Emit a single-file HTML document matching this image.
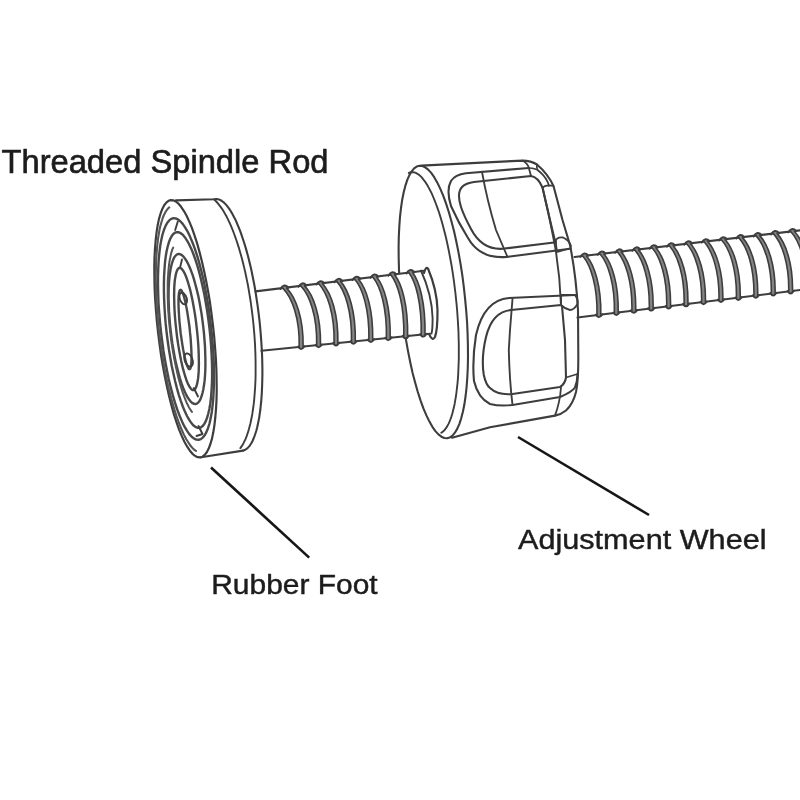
<!DOCTYPE html>
<html><head><meta charset="utf-8"><title>Spindle rod diagram</title>
<style>
html,body{margin:0;padding:0;background:#fff;}
body{width:800px;height:800px;overflow:hidden;font-family:"Liberation Sans",sans-serif;}
svg{display:block;}
text{font-family:"Liberation Sans",sans-serif;fill:#1c1c1c;stroke:#1c1c1c;stroke-width:0.45px;stroke-linejoin:round;}
.art path{stroke-linecap:round;stroke-linejoin:round;}
</style></head><body>
<svg width="800" height="800" viewBox="0 0 800 800">
<defs>
<filter id="soft" x="-2%" y="-2%" width="104%" height="104%"><feGaussianBlur stdDeviation="0.65"/></filter>
<filter id="softt" x="-2%" y="-10%" width="104%" height="120%"><feGaussianBlur stdDeviation="0.45"/></filter>
</defs>
<rect width="800" height="800" fill="#fff"/>
<g class="art" filter="url(#soft)">
<path d="M176,200.4 L214,199.2 L216.5,199.0 L217.8,199.2 L219.2,199.6 L220.6,200.2 L221.9,201.0 L223.4,202.1 L224.8,203.4 L226.2,204.9 L227.6,206.6 L229.1,208.6 L230.5,210.8 L231.9,213.1 L233.3,215.7 L234.8,218.5 L236.2,221.4 L237.5,224.6 L238.9,227.9 L240.3,231.4 L241.6,235.1 L242.9,239.0 L244.2,243.0 L245.5,247.1 L246.7,251.4 L247.9,255.8 L249.1,260.4 L250.2,265.1 L251.3,269.8 L252.3,274.7 L253.3,279.7 L254.3,284.7 L255.2,289.9 L256.0,295.0 L256.8,300.3 L257.6,305.6 L258.3,310.9 L259.0,316.3 L259.6,321.6 L260.1,327.0 L260.6,332.4 L261.0,337.7 L261.4,343.0 L261.7,348.3 L262.0,353.6 L262.2,358.8 L262.3,363.9 L262.4,369.0 L262.4,374.0 L262.3,378.9 L262.2,383.7 L262.0,388.4 L261.8,393.0 L261.5,397.4 L261.2,401.7 L260.7,405.9 L260.3,410.0 L259.7,413.8 L259.2,417.6 L258.5,421.1 L257.8,424.5 L257.1,427.7 L256.3,430.7 L255.4,433.5 L254.5,436.1 L253.6,438.5 L252.6,440.7 L251.6,442.7 L250.5,444.5 L249.4,446.1 L248.2,447.4 L247.0,448.5 L245.8,449.4 L244.6,450.1 L243.3,450.6" fill="none" stroke="#3e3e3e" stroke-width="2.10" />
<path d="M213.9,199.4 L215.3,200.6 L216.7,202.0 L218.1,203.6 L219.4,205.3 L220.8,207.1 L222.2,209.1 L223.6,211.3 L224.9,213.6 L226.3,216.0 L227.6,218.6 L228.9,221.3 L230.2,224.2 L231.5,227.2 L232.8,230.3 L234.0,233.5 L235.2,236.9 L236.4,240.3 L237.6,243.9 L238.8,247.6 L239.9,251.4 L241.0,255.2 L242.1,259.2 L243.1,263.2 L244.1,267.4 L245.1,271.5 L246.0,275.8 L246.9,280.1 L247.8,284.5 L248.6,289.0 L249.3,293.4 L250.1,298.0 L250.8,302.5 L251.4,307.1 L252.0,311.7 L252.6,316.4 L253.1,321.0 L253.6,325.6 L254.0,330.3 L254.4,334.9 L254.7,339.5 L255.0,344.1 L255.2,348.7 L255.4,353.3 L255.5,357.8 L255.6,362.2 L255.6,366.7 L255.6,371.0 L255.6,375.3 L255.5,379.6 L255.3,383.7 L255.1,387.8 L254.8,391.9 L254.5,395.8 L254.2,399.6 L253.8,403.4 L253.3,407.0 L252.8,410.5 L252.3,414.0 L251.7,417.3 L251.0,420.5 L250.4,423.5 L249.6,426.5 L248.9,429.3 L248.1,431.9 L247.2,434.5 L246.4,436.9 L245.5,439.1 L244.5,441.2 L243.5,443.2 L242.5,445.0 L241.4,446.6 L240.4,448.1" fill="none" stroke="#3e3e3e" stroke-width="1.90" />
<path d="M201,457.3 L243,450.6" fill="none" stroke="#3e3e3e" stroke-width="2.10" />
<path d="M213.0,325.6 L214.2,336.8 L215.1,348.0 L215.9,359.0 L216.4,369.8 L216.6,380.3 L216.7,390.4 L216.5,400.0 L216.0,409.1 L215.3,417.5 L214.4,425.3 L213.3,432.3 L212.0,438.6 L210.4,444.0 L208.7,448.6 L206.8,452.2 L204.7,454.9 L202.5,456.7 L200.2,457.4 L197.7,457.2 L195.2,456.0 L192.5,453.8 L189.9,450.7 L187.2,446.7 L184.4,441.7 L181.7,435.9 L179.0,429.3 L176.4,421.9 L173.8,413.9 L171.4,405.1 L169.0,395.8 L166.8,386.0 L164.7,375.7 L162.7,365.1 L160.9,354.2 L159.4,343.1 L158.0,331.9 L156.8,320.7 L155.9,309.5 L155.1,298.5 L154.6,287.7 L154.4,277.2 L154.3,267.1 L154.5,257.5 L155.0,248.4 L155.7,240.0 L156.6,232.2 L157.7,225.2 L159.0,218.9 L160.6,213.5 L162.3,208.9 L164.2,205.3 L166.3,202.6 L168.5,200.8 L170.8,200.1 L173.3,200.3 L175.8,201.5 L178.5,203.7 L181.1,206.8 L183.8,210.8 L186.6,215.8 L189.3,221.6 L192.0,228.2 L194.6,235.6 L197.2,243.6 L199.6,252.4 L202.0,261.7 L204.2,271.5 L206.3,281.8 L208.3,292.4 L210.1,303.3 L211.6,314.4 L213.0,325.6Z" fill="#fff" stroke="#3e3e3e" stroke-width="2.20" />
<path d="M211.0,326.1 L212.0,335.8 L212.8,345.4 L213.5,354.9 L213.8,364.2 L214.0,373.2 L214.0,381.9 L213.7,390.2 L213.3,398.0 L212.6,405.3 L211.8,412.0 L210.7,418.1 L209.5,423.5 L208.0,428.2 L206.4,432.1 L204.7,435.3 L202.8,437.6 L200.8,439.1 L198.6,439.8 L196.4,439.6 L194.1,438.6 L191.7,436.7 L189.3,434.1 L186.9,430.6 L184.4,426.4 L182.0,421.4 L179.6,415.7 L177.2,409.4 L174.9,402.4 L172.7,394.9 L170.6,386.9 L168.6,378.4 L166.8,369.6 L165.1,360.4 L163.5,351.0 L162.2,341.5 L161.0,331.9 L160.0,322.2 L159.2,312.6 L158.5,303.1 L158.2,293.8 L158.0,284.8 L158.0,276.1 L158.3,267.8 L158.7,260.0 L159.4,252.7 L160.2,246.0 L161.3,239.9 L162.5,234.5 L164.0,229.8 L165.6,225.9 L167.3,222.7 L169.2,220.4 L171.2,218.9 L173.4,218.2 L175.6,218.4 L177.9,219.4 L180.3,221.3 L182.7,223.9 L185.1,227.4 L187.6,231.6 L190.0,236.6 L192.4,242.3 L194.8,248.6 L197.1,255.6 L199.3,263.1 L201.4,271.1 L203.4,279.6 L205.2,288.4 L206.9,297.6 L208.5,307.0 L209.8,316.5 L211.0,326.1Z" fill="none" stroke="#4a4a4a" stroke-width="2.40" />
<path d="M209.4,327.6 L210.3,336.1 L211.0,344.6 L211.5,353.0 L211.9,361.2 L212.1,369.2 L212.1,376.8 L211.9,384.1 L211.5,391.0 L211.0,397.5 L210.3,403.4 L209.4,408.8 L208.3,413.5 L207.1,417.7 L205.8,421.1 L204.3,423.9 L202.7,426.0 L201.0,427.3 L199.2,427.9 L197.2,427.7 L195.3,426.8 L193.2,425.2 L191.2,422.8 L189.1,419.7 L187.0,416.0 L184.9,411.6 L182.8,406.5 L180.8,400.9 L178.8,394.8 L176.9,388.1 L175.1,381.0 L173.4,373.6 L171.7,365.8 L170.3,357.7 L168.9,349.4 L167.7,341.0 L166.6,332.4 L165.7,323.9 L165.0,315.4 L164.5,307.0 L164.1,298.8 L163.9,290.8 L163.9,283.2 L164.1,275.9 L164.5,269.0 L165.0,262.5 L165.7,256.6 L166.6,251.2 L167.7,246.5 L168.9,242.3 L170.2,238.9 L171.7,236.1 L173.3,234.0 L175.0,232.7 L176.8,232.1 L178.8,232.3 L180.7,233.2 L182.8,234.8 L184.8,237.2 L186.9,240.3 L189.0,244.0 L191.1,248.4 L193.2,253.5 L195.2,259.1 L197.2,265.2 L199.1,271.9 L200.9,279.0 L202.6,286.4 L204.3,294.2 L205.7,302.3 L207.1,310.6 L208.3,319.0 L209.4,327.6Z" fill="none" stroke="#4a4a4a" stroke-width="2.40" />
<path d="M203.3,327.1 L204.0,333.7 L204.5,340.2 L205.0,346.6 L205.2,352.9 L205.4,359.0 L205.4,364.9 L205.3,370.5 L205.0,375.8 L204.6,380.7 L204.0,385.3 L203.3,389.4 L202.5,393.0 L201.6,396.2 L200.6,398.9 L199.5,401.0 L198.2,402.6 L196.9,403.6 L195.5,404.0 L194.1,403.9 L192.6,403.2 L191.0,401.9 L189.5,400.1 L187.9,397.8 L186.3,394.9 L184.7,391.5 L183.1,387.7 L181.5,383.4 L180.0,378.6 L178.6,373.5 L177.2,368.1 L175.8,362.4 L174.6,356.4 L173.5,350.2 L172.4,343.9 L171.5,337.4 L170.7,330.9 L170.0,324.3 L169.5,317.8 L169.0,311.4 L168.8,305.1 L168.6,299.0 L168.6,293.1 L168.7,287.5 L169.0,282.2 L169.4,277.3 L170.0,272.7 L170.7,268.6 L171.5,265.0 L172.4,261.8 L173.4,259.1 L174.5,257.0 L175.8,255.4 L177.1,254.4 L178.5,254.0 L179.9,254.1 L181.4,254.8 L183.0,256.1 L184.5,257.9 L186.1,260.2 L187.7,263.1 L189.3,266.5 L190.9,270.3 L192.5,274.6 L194.0,279.4 L195.4,284.5 L196.8,289.9 L198.2,295.6 L199.4,301.6 L200.5,307.8 L201.6,314.1 L202.5,320.6 L203.3,327.1Z" fill="none" stroke="#4a4a4a" stroke-width="2.40" />
<path d="M196.7,327.8 L197.3,333.2 L197.8,338.5 L198.2,343.7 L198.5,348.8 L198.7,353.8 L198.8,358.5 L198.9,363.1 L198.8,367.4 L198.7,371.4 L198.4,375.1 L198.1,378.4 L197.6,381.3 L197.1,383.9 L196.5,386.0 L195.9,387.7 L195.1,389.0 L194.3,389.8 L193.5,390.1 L192.5,390.0 L191.6,389.4 L190.6,388.3 L189.5,386.8 L188.5,384.9 L187.4,382.5 L186.3,379.7 L185.3,376.6 L184.2,373.0 L183.1,369.2 L182.1,365.0 L181.1,360.6 L180.2,355.9 L179.3,351.0 L178.4,345.9 L177.6,340.8 L176.9,335.5 L176.3,330.2 L175.7,324.8 L175.2,319.5 L174.8,314.3 L174.5,309.2 L174.3,304.2 L174.2,299.5 L174.1,294.9 L174.2,290.6 L174.3,286.6 L174.6,282.9 L174.9,279.6 L175.4,276.7 L175.9,274.1 L176.5,272.0 L177.1,270.3 L177.9,269.0 L178.7,268.2 L179.5,267.9 L180.5,268.0 L181.4,268.6 L182.4,269.7 L183.5,271.2 L184.5,273.1 L185.6,275.5 L186.7,278.3 L187.7,281.4 L188.8,285.0 L189.9,288.8 L190.9,293.0 L191.9,297.4 L192.8,302.1 L193.7,307.0 L194.6,312.1 L195.4,317.2 L196.1,322.5 L196.7,327.8Z" fill="none" stroke="#4a4a4a" stroke-width="2.40" />
<path d="M189.7,329.0 L190.0,332.4 L190.4,335.9 L190.7,339.3 L190.9,342.6 L191.1,345.8 L191.3,348.9 L191.4,351.9 L191.5,354.6 L191.5,357.2 L191.5,359.6 L191.4,361.8 L191.3,363.7 L191.1,365.3 L190.9,366.7 L190.6,367.8 L190.3,368.5 L189.9,369.0 L189.5,369.2 L189.1,369.1 L188.6,368.7 L188.2,368.0 L187.7,367.0 L187.1,365.7 L186.6,364.2 L186.0,362.4 L185.5,360.3 L184.9,358.0 L184.3,355.5 L183.8,352.7 L183.2,349.8 L182.7,346.8 L182.2,343.6 L181.7,340.3 L181.2,336.9 L180.7,333.5 L180.3,330.0 L180.0,326.6 L179.6,323.1 L179.3,319.7 L179.1,316.4 L178.9,313.2 L178.7,310.1 L178.6,307.1 L178.5,304.4 L178.5,301.8 L178.5,299.4 L178.6,297.2 L178.7,295.3 L178.9,293.7 L179.1,292.3 L179.4,291.2 L179.7,290.5 L180.1,290.0 L180.5,289.8 L180.9,289.9 L181.4,290.3 L181.8,291.0 L182.3,292.0 L182.9,293.3 L183.4,294.8 L184.0,296.6 L184.5,298.7 L185.1,301.0 L185.7,303.5 L186.2,306.3 L186.8,309.2 L187.3,312.2 L187.8,315.4 L188.3,318.7 L188.8,322.1 L189.3,325.5 L189.7,329.0Z" fill="none" stroke="#4a4a4a" stroke-width="2.40" />
<path d="M186.4,297.3 L186.6,297.8 L186.7,298.3 L186.8,298.8 L186.9,299.3 L187.0,299.8 L187.0,300.3 L187.0,300.8 L187.0,301.2 L186.9,301.7 L186.8,302.1 L186.7,302.5 L186.6,302.8 L186.4,303.1 L186.2,303.4 L186.0,303.6 L185.8,303.9 L185.5,304.0 L185.3,304.1 L185.0,304.2 L184.7,304.3 L184.4,304.2 L184.0,304.2 L183.7,304.1 L183.4,304.0 L183.0,303.8 L182.7,303.6 L182.4,303.3 L182.1,303.0 L181.8,302.7 L181.5,302.3 L181.2,301.9 L180.9,301.5 L180.6,301.1 L180.4,300.6 L180.2,300.1 L180.0,299.7 L179.8,299.2 L179.7,298.7 L179.6,298.2 L179.5,297.7 L179.4,297.2 L179.4,296.7 L179.4,296.2 L179.4,295.8 L179.5,295.3 L179.6,294.9 L179.7,294.5 L179.8,294.2 L180.0,293.9 L180.2,293.6 L180.4,293.4 L180.6,293.1 L180.9,293.0 L181.1,292.9 L181.4,292.8 L181.7,292.7 L182.0,292.8 L182.4,292.8 L182.7,292.9 L183.0,293.0 L183.4,293.2 L183.7,293.4 L184.0,293.7 L184.3,294.0 L184.6,294.3 L184.9,294.7 L185.2,295.1 L185.5,295.5 L185.8,295.9 L186.0,296.4 L186.2,296.9 L186.4,297.3Z" fill="none" stroke="#3e3e3e" stroke-width="1.90" />
<path d="M192.2,358.7 L192.4,359.3 L192.5,359.8 L192.7,360.4 L192.8,361.0 L192.8,361.5 L192.9,362.1 L192.9,362.6 L192.8,363.1 L192.8,363.6 L192.7,364.1 L192.6,364.5 L192.4,364.9 L192.2,365.2 L192.0,365.6 L191.8,365.8 L191.5,366.1 L191.2,366.3 L190.9,366.4 L190.6,366.5 L190.3,366.5 L189.9,366.5 L189.6,366.4 L189.2,366.3 L188.8,366.2 L188.5,366.0 L188.1,365.7 L187.7,365.4 L187.4,365.1 L187.0,364.7 L186.7,364.3 L186.3,363.9 L186.0,363.4 L185.8,362.9 L185.5,362.4 L185.2,361.9 L185.0,361.3 L184.8,360.7 L184.7,360.2 L184.5,359.6 L184.4,359.0 L184.4,358.5 L184.3,357.9 L184.3,357.4 L184.4,356.9 L184.4,356.4 L184.5,355.9 L184.6,355.5 L184.8,355.1 L185.0,354.8 L185.2,354.4 L185.4,354.2 L185.7,353.9 L186.0,353.7 L186.3,353.6 L186.6,353.5 L186.9,353.5 L187.3,353.5 L187.6,353.6 L188.0,353.7 L188.4,353.8 L188.7,354.0 L189.1,354.3 L189.5,354.6 L189.8,354.9 L190.2,355.3 L190.5,355.7 L190.9,356.1 L191.2,356.6 L191.4,357.1 L191.7,357.6 L192.0,358.1 L192.2,358.7Z" fill="none" stroke="#3e3e3e" stroke-width="1.90" />
<path d="M177.8,221.5 L175.2,230" fill="none" stroke="#3e3e3e" stroke-width="1.90" />
<path d="M182,259.5 L180.2,267" fill="none" stroke="#3e3e3e" stroke-width="1.90" />
<path d="M198.5,426 L202.5,434 L196.5,436" fill="none" stroke="#3e3e3e" stroke-width="1.90" />
<path d="M193.8,388 L198,396.5" fill="none" stroke="#3e3e3e" stroke-width="1.90" />
<path d="M196.0,450.9 L194.8,450.1 L193.6,449.1 L192.4,447.9 L191.2,446.5 L190.0,445.0 L188.8,443.2 L187.6,441.3 L186.3,439.3 L185.1,437.0 L183.9,434.6 L182.7,432.0 L181.5,429.3 L180.3,426.4 L179.1,423.4 L177.9,420.2 L176.7,416.9 L175.6,413.4 L174.5,409.8 L173.4,406.1 L172.3,402.3 L171.2,398.3 L170.2,394.3 L169.1,390.1 L168.1,385.9 L167.2,381.5 L166.3,377.1 L165.4,372.6 L164.5,368.1 L163.7,363.4 L162.9,358.8 L162.1,354.0 L161.4,349.3 L160.7,344.5 L160.1,339.7 L159.5,334.9 L158.9,330.0 L158.4,325.2 L158.0,320.3 L157.5,315.5 L157.2,310.7 L156.8,306.0 L156.6,301.2 L156.3,296.5 L156.1,291.9 L156.0,287.3 L155.9,282.8 L155.8,278.3 L155.8,274.0 L155.9,269.7 L156.0,265.5 L156.1,261.4 L156.3,257.4 L156.6,253.5 L156.9,249.7 L157.2,246.1 L157.6,242.6 L158.0,239.2 L158.5,235.9 L159.0,232.8 L159.5,229.9 L160.1,227.1 L160.8,224.5 L161.5,222.0 L162.2,219.7 L162.9,217.5 L163.7,215.5 L164.6,213.7 L165.4,212.1 L166.3,210.7 L167.3,209.4 L168.2,208.3 L169.2,207.4" fill="none" stroke="#555" stroke-width="2.10" />
<path d="M191.9,411.9 L191.2,410.9 L190.5,409.8 L189.7,408.6 L189.0,407.4 L188.3,406.0 L187.6,404.5 L186.8,403.0 L186.1,401.4 L185.4,399.7 L184.7,397.9 L184.0,396.0 L183.3,394.1 L182.6,392.1 L181.9,390.0 L181.2,387.8 L180.6,385.6 L179.9,383.3 L179.3,380.9 L178.6,378.5 L178.0,376.0 L177.4,373.5 L176.8,370.9 L176.2,368.3 L175.6,365.6 L175.1,362.9 L174.5,360.1 L174.0,357.3 L173.5,354.5 L173.0,351.7 L172.5,348.8 L172.1,345.9 L171.6,343.0 L171.2,340.0 L170.8,337.1 L170.5,334.1 L170.1,331.2 L169.8,328.2 L169.5,325.2 L169.2,322.3 L168.9,319.3 L168.7,316.4 L168.5,313.4 L168.3,310.5 L168.1,307.6 L168.0,304.8 L167.9,301.9 L167.8,299.1 L167.7,296.3 L167.7,293.6 L167.7,290.9 L167.7,288.3 L167.7,285.7 L167.7,283.1 L167.8,280.6 L167.9,278.2 L168.1,275.8 L168.2,273.5 L168.4,271.2 L168.6,269.0 L168.8,266.9 L169.0,264.8 L169.3,262.8 L169.6,260.9 L169.9,259.1 L170.3,257.4 L170.6,255.7 L171.0,254.1 L171.4,252.6 L171.8,251.2 L172.2,249.9 L172.7,248.7 L173.2,247.6" fill="none" stroke="#555" stroke-width="2.00" />
<path d="M421.3,165.6 L522.5,160.6 Q531,160.8 537,164.5 Q548,174 553.5,186 L562.5,220 L570,245 Q576,275 578,310 L578.3,355 Q578.5,380 576,392 Q573,404 566,410.5 Q561,414.5 555,415.6 L490,427.3 L452,437.8 L430,420 L400,300 L405,200 Z" fill="#fff" stroke="#3e3e3e" stroke-width="0.00" />
<path d="M421.3,165.6 L522.5,160.6 Q531,160.8 537,164.5 Q548,174 553.5,186 L562.5,220 L570,245 Q576,275 578,310 L578.3,355 Q578.5,380 576,392 Q573,404 566,410.5 Q561,414.5 555,415.6 L490,427.3 L452,437.8" fill="none" stroke="#3e3e3e" stroke-width="2.10" />
<path d="M465.1,298.8 L466.2,310.6 L467.1,322.5 L467.6,334.1 L467.9,345.5 L468.0,356.6 L467.8,367.3 L467.3,377.5 L466.6,387.1 L465.6,396.0 L464.4,404.3 L462.9,411.7 L461.2,418.3 L459.3,424.1 L457.2,428.9 L454.9,432.7 L452.5,435.6 L449.9,437.4 L447.1,438.2 L444.3,438.0 L441.4,436.7 L438.4,434.4 L435.4,431.1 L432.4,426.8 L429.4,421.6 L426.4,415.4 L423.4,408.4 L420.6,400.6 L417.8,392.0 L415.2,382.8 L412.6,372.9 L410.3,362.5 L408.1,351.6 L406.1,340.4 L404.3,328.8 L402.8,317.1 L401.5,305.2 L400.4,293.4 L399.5,281.5 L399.0,269.9 L398.7,258.5 L398.6,247.4 L398.8,236.7 L399.3,226.5 L400.0,216.9 L401.0,208.0 L402.2,199.7 L403.7,192.3 L405.4,185.7 L407.3,179.9 L409.4,175.1 L411.7,171.3 L414.1,168.4 L416.7,166.6 L419.5,165.8 L422.3,166.0 L425.2,167.3 L428.2,169.6 L431.2,172.9 L434.2,177.2 L437.2,182.4 L440.2,188.6 L443.2,195.6 L446.0,203.4 L448.8,212.0 L451.4,221.2 L454.0,231.1 L456.3,241.5 L458.5,252.4 L460.5,263.6 L462.3,275.2 L463.8,286.9 L465.1,298.8Z" fill="#fff" stroke="#3e3e3e" stroke-width="2.10" />
<path d="M408.8,172.9 L410.1,172.4 L411.5,172.2 L412.9,172.2 L414.3,172.4 L415.7,172.9 L417.1,173.6 L418.6,174.5 L420.0,175.7 L421.5,177.2 L422.9,178.9 L424.4,180.8 L425.9,182.9 L427.4,185.3 L428.8,187.9 L430.3,190.7 L431.8,193.7 L433.2,197.0 L434.6,200.4 L436.0,204.0 L437.4,207.8 L438.8,211.8 L440.1,215.9 L441.4,220.3 L442.7,224.7 L443.9,229.4 L445.1,234.1 L446.3,239.0 L447.4,244.0 L448.5,249.2 L449.5,254.4 L450.5,259.7 L451.5,265.1 L452.4,270.6 L453.2,276.1 L454.0,281.7 L454.7,287.3 L455.4,292.9 L456.0,298.6 L456.6,304.3 L457.1,310.0 L457.5,315.6 L457.9,321.3 L458.2,326.9 L458.5,332.4 L458.6,337.9 L458.8,343.4 L458.8,348.7 L458.8,354.0 L458.8,359.2 L458.6,364.3 L458.4,369.2 L458.2,374.1 L457.9,378.8 L457.5,383.3 L457.0,387.7 L456.5,392.0 L456.0,396.0 L455.3,399.9 L454.7,403.7 L453.9,407.2 L453.1,410.5 L452.3,413.7 L451.4,416.6 L450.4,419.3 L449.4,421.8 L448.4,424.1 L447.3,426.1 L446.2,427.9 L445.0,429.5 L443.8,430.8 L442.6,431.9 L441.3,432.8" fill="none" stroke="#3e3e3e" stroke-width="1.90" />
<path d="M570,248.8 L506,257 Q480,259 468,238 Q458,222 451,206 Q446,190 451,181 Q455,174.5 466,173.2 L528.8,168" fill="none" stroke="#3e3e3e" stroke-width="2.10" />
<path d="M554,242.5 L502.5,248.8 Q482,250 471,229 Q464,216 461,207 Q456.5,193 462,187 Q466,183 474,182 L531,176 Q538,177 542.5,187.5 L548.8,215 L555.5,243" fill="none" stroke="#3e3e3e" stroke-width="2.10" />
<path d="M482,171.8 Q487,200 496,230 L507.5,257" fill="none" stroke="#3e3e3e" stroke-width="1.90" />
<path d="M542.5,187.5 L548.8,215 L555,246 Q560,275 561,305" fill="none" stroke="#3e3e3e" stroke-width="1.90" />
<path d="M522.5,160.6 Q528,164 528.8,168 Q530,172 531,176" fill="none" stroke="#3e3e3e" stroke-width="1.80" />
<path d="M528.8,168 Q536,168 540,172" fill="none" stroke="#3e3e3e" stroke-width="1.70" />
<path d="M542.5,187.5 Q547,184 553.5,186" fill="none" stroke="#3e3e3e" stroke-width="1.70" />
<path d="M537,164.5 Q536,170 540,172 Q547,178 549,186" fill="none" stroke="#3e3e3e" stroke-width="1.70" />
<path d="M553.8,242.5 Q557,236.5 563,237.5 Q569,240 571,246" fill="none" stroke="#3e3e3e" stroke-width="1.80" />
<path d="M556,240 Q556,248 557.5,252 L571,248" fill="none" stroke="#3e3e3e" stroke-width="1.70" />
<path d="M561,295 L575,295 Q578.5,300 577.5,304 Q574,310 570,310 Q565,309 561,305 Z" fill="none" stroke="#3e3e3e" stroke-width="1.90" />
<path d="M575,295 L509,298 Q484,300 476,335 Q472,360 474,381 Q478,398 490,404 Q500,406.5 512.5,405 L560,397 Q572,392 575,387.5 Q577.5,381 577.5,374" fill="none" stroke="#3e3e3e" stroke-width="2.10" />
<path d="M561,305 L511,310 Q492,312 486,337 Q481,358 483.8,375 Q486,385 490,388 Q498,395.5 512.5,394 L560,387 Q565,384 566,377.5 L565,340 L562,306" fill="none" stroke="#3e3e3e" stroke-width="2.10" />
<path d="M512.5,299 L510,330 L508.8,350 Q509.5,380 512.5,405" fill="none" stroke="#3e3e3e" stroke-width="1.90" />
<path d="M566,377.5 L577.5,374" fill="none" stroke="#3e3e3e" stroke-width="1.70" />
<path d="M561,387.5 Q560,402 555,415.6" fill="none" stroke="#3e3e3e" stroke-width="1.80" />
<path d="M385,275.5 L426,270.5 L431,333.6 L385,338.3Z" fill="#fff" stroke="#3e3e3e" stroke-width="0.00" />
<path d="M255.5,291.4 L424,270.7" fill="none" stroke="#3e3e3e" stroke-width="2.10" />
<path d="M261.5,350.8 L430,333.7" fill="none" stroke="#3e3e3e" stroke-width="2.10" />
<path d="M284.6,288.1 C293.7,297.1 301.8,318.1 301.1,347.0" fill="none" stroke="#858585" stroke-width="3.80" />
<path d="M282.8,288.1 C291.8,297.1 299.9,318.1 299.2,347.0" fill="none" stroke="#3e3e3e" stroke-width="1.60" />
<path d="M286.6,288.1 C295.6,297.1 303.7,318.1 303.1,347.0" fill="none" stroke="#3e3e3e" stroke-width="1.60" />
<path d="M280.4,288.9 q3.6,-6 8,-1.2" fill="none" stroke="#3e3e3e" stroke-width="2.00" />
<path d="M298.2,346.6 q2.8,5 6.2,-0.3" fill="none" stroke="#3e3e3e" stroke-width="2.00" />
<path d="M302.6,285.9 C311.4,294.9 319.2,315.9 318.6,345.2" fill="none" stroke="#858585" stroke-width="3.80" />
<path d="M300.8,285.9 C309.5,294.9 317.3,315.9 316.7,345.2" fill="none" stroke="#3e3e3e" stroke-width="1.60" />
<path d="M304.6,285.9 C313.3,294.9 321.1,315.9 320.5,345.2" fill="none" stroke="#3e3e3e" stroke-width="1.60" />
<path d="M298.4,286.7 q3.6,-6 8,-1.2" fill="none" stroke="#3e3e3e" stroke-width="2.00" />
<path d="M315.7,344.8 q2.8,5 6.2,-0.3" fill="none" stroke="#3e3e3e" stroke-width="2.00" />
<path d="M320.6,283.7 C329.1,292.7 336.6,313.7 336.0,343.4" fill="none" stroke="#858585" stroke-width="3.80" />
<path d="M318.8,283.7 C327.2,292.7 334.7,313.7 334.1,343.4" fill="none" stroke="#3e3e3e" stroke-width="1.60" />
<path d="M322.6,283.7 C331.0,292.7 338.5,313.7 337.9,343.4" fill="none" stroke="#3e3e3e" stroke-width="1.60" />
<path d="M316.4,284.5 q3.6,-6 8,-1.2" fill="none" stroke="#3e3e3e" stroke-width="2.00" />
<path d="M333.1,343.0 q2.8,5 6.2,-0.3" fill="none" stroke="#3e3e3e" stroke-width="2.00" />
<path d="M338.6,281.4 C346.8,290.4 354.0,311.4 353.4,341.7" fill="none" stroke="#858585" stroke-width="3.80" />
<path d="M336.8,281.4 C344.9,290.4 352.1,311.4 351.5,341.7" fill="none" stroke="#3e3e3e" stroke-width="1.60" />
<path d="M340.6,281.4 C348.7,290.4 355.9,311.4 355.3,341.7" fill="none" stroke="#3e3e3e" stroke-width="1.60" />
<path d="M334.4,282.2 q3.6,-6 8,-1.2" fill="none" stroke="#3e3e3e" stroke-width="2.00" />
<path d="M350.5,341.3 q2.8,5 6.2,-0.3" fill="none" stroke="#3e3e3e" stroke-width="2.00" />
<path d="M356.6,279.2 C364.4,288.2 371.4,309.2 370.8,339.9" fill="none" stroke="#858585" stroke-width="3.80" />
<path d="M354.8,279.2 C362.5,288.2 369.5,309.2 368.9,339.9" fill="none" stroke="#3e3e3e" stroke-width="1.60" />
<path d="M358.6,279.2 C366.3,288.2 373.3,309.2 372.7,339.9" fill="none" stroke="#3e3e3e" stroke-width="1.60" />
<path d="M352.4,280.0 q3.6,-6 8,-1.2" fill="none" stroke="#3e3e3e" stroke-width="2.00" />
<path d="M367.9,339.5 q2.8,5 6.2,-0.3" fill="none" stroke="#3e3e3e" stroke-width="2.00" />
<path d="M374.6,277.0 C382.1,286.0 388.9,307.0 388.2,338.1" fill="none" stroke="#858585" stroke-width="3.80" />
<path d="M372.8,277.0 C380.2,286.0 387.0,307.0 386.4,338.1" fill="none" stroke="#3e3e3e" stroke-width="1.60" />
<path d="M376.6,277.0 C384.0,286.0 390.8,307.0 390.2,338.1" fill="none" stroke="#3e3e3e" stroke-width="1.60" />
<path d="M370.4,277.8 q3.6,-6 8,-1.2" fill="none" stroke="#3e3e3e" stroke-width="2.00" />
<path d="M385.4,337.7 q2.8,5 6.2,-0.3" fill="none" stroke="#3e3e3e" stroke-width="2.00" />
<path d="M392.6,274.8 C399.8,283.8 406.3,304.8 405.7,336.3" fill="none" stroke="#858585" stroke-width="3.80" />
<path d="M390.8,274.8 C397.9,283.8 404.4,304.8 403.8,336.3" fill="none" stroke="#3e3e3e" stroke-width="1.60" />
<path d="M394.6,274.8 C401.7,283.8 408.2,304.8 407.6,336.3" fill="none" stroke="#3e3e3e" stroke-width="1.60" />
<path d="M388.4,275.6 q3.6,-6 8,-1.2" fill="none" stroke="#3e3e3e" stroke-width="2.00" />
<path d="M402.8,335.9 q2.8,5 6.2,-0.3" fill="none" stroke="#3e3e3e" stroke-width="2.00" />
<path d="M410.6,272.6 C417.5,281.6 423.7,302.6 423.1,334.6" fill="none" stroke="#858585" stroke-width="3.80" />
<path d="M408.8,272.6 C415.6,281.6 421.8,302.6 421.2,334.6" fill="none" stroke="#3e3e3e" stroke-width="1.60" />
<path d="M412.6,272.6 C419.4,281.6 425.6,302.6 425.0,334.6" fill="none" stroke="#3e3e3e" stroke-width="1.60" />
<path d="M406.4,273.4 q3.6,-6 8,-1.2" fill="none" stroke="#3e3e3e" stroke-width="2.00" />
<path d="M420.2,334.2 q2.8,5 6.2,-0.3" fill="none" stroke="#3e3e3e" stroke-width="2.00" />
<path d="M424,273 Q425.5,266.5 428,268.5 Q437,290 437.5,310 Q437.6,330 435,337 Q432.5,341.5 429.5,335" fill="none" stroke="#3e3e3e" stroke-width="2.20" />
<path d="M421,270.5 Q432,295 432.6,318 Q432.6,330 431.5,333.5" fill="none" stroke="#3e3e3e" stroke-width="1.90" />
<path d="M574.5,257.0 L805,229.8" fill="none" stroke="#3e3e3e" stroke-width="2.10" />
<path d="M577.5,317.5 L805,289.4" fill="none" stroke="#3e3e3e" stroke-width="2.10" />
<path d="M584.6,256.0 C592.5,265.0 599.5,286.0 598.9,315.1" fill="none" stroke="#858585" stroke-width="3.80" />
<path d="M582.8,256.0 C590.6,265.0 597.6,286.0 597.0,315.1" fill="none" stroke="#3e3e3e" stroke-width="1.60" />
<path d="M586.5,256.0 C594.4,265.0 601.4,286.0 600.8,315.1" fill="none" stroke="#3e3e3e" stroke-width="1.60" />
<path d="M580.4,256.8 q3.6,-6 8,-1.2" fill="none" stroke="#3e3e3e" stroke-width="2.00" />
<path d="M596.0,314.7 q2.8,5 6.2,-0.3" fill="none" stroke="#3e3e3e" stroke-width="2.00" />
<path d="M602.0,254.0 C609.9,263.0 616.9,284.0 616.3,312.9" fill="none" stroke="#858585" stroke-width="3.80" />
<path d="M600.1,254.0 C608.0,263.0 615.0,284.0 614.4,312.9" fill="none" stroke="#3e3e3e" stroke-width="1.60" />
<path d="M603.9,254.0 C611.8,263.0 618.8,284.0 618.2,312.9" fill="none" stroke="#3e3e3e" stroke-width="1.60" />
<path d="M597.7,254.8 q3.6,-6 8,-1.2" fill="none" stroke="#3e3e3e" stroke-width="2.00" />
<path d="M613.4,312.5 q2.8,5 6.2,-0.3" fill="none" stroke="#3e3e3e" stroke-width="2.00" />
<path d="M619.3,251.9 C627.3,260.9 634.4,281.9 633.8,310.8" fill="none" stroke="#858585" stroke-width="3.80" />
<path d="M617.4,251.9 C625.4,260.9 632.5,281.9 631.9,310.8" fill="none" stroke="#3e3e3e" stroke-width="1.60" />
<path d="M621.2,251.9 C629.2,260.9 636.3,281.9 635.7,310.8" fill="none" stroke="#3e3e3e" stroke-width="1.60" />
<path d="M615.0,252.7 q3.6,-6 8,-1.2" fill="none" stroke="#3e3e3e" stroke-width="2.00" />
<path d="M630.9,310.4 q2.8,5 6.2,-0.3" fill="none" stroke="#3e3e3e" stroke-width="2.00" />
<path d="M636.6,249.9 C644.6,258.9 651.8,279.9 651.2,308.6" fill="none" stroke="#858585" stroke-width="3.80" />
<path d="M634.7,249.9 C642.7,258.9 649.9,279.9 649.3,308.6" fill="none" stroke="#3e3e3e" stroke-width="1.60" />
<path d="M638.5,249.9 C646.5,258.9 653.7,279.9 653.1,308.6" fill="none" stroke="#3e3e3e" stroke-width="1.60" />
<path d="M632.3,250.7 q3.6,-6 8,-1.2" fill="none" stroke="#3e3e3e" stroke-width="2.00" />
<path d="M648.3,308.2 q2.8,5 6.2,-0.3" fill="none" stroke="#3e3e3e" stroke-width="2.00" />
<path d="M654.0,247.8 C662.0,256.8 669.2,277.8 668.6,306.5" fill="none" stroke="#858585" stroke-width="3.80" />
<path d="M652.1,247.8 C660.1,256.8 667.3,277.8 666.7,306.5" fill="none" stroke="#3e3e3e" stroke-width="1.60" />
<path d="M655.9,247.8 C663.9,256.8 671.1,277.8 670.5,306.5" fill="none" stroke="#3e3e3e" stroke-width="1.60" />
<path d="M649.7,248.6 q3.6,-6 8,-1.2" fill="none" stroke="#3e3e3e" stroke-width="2.00" />
<path d="M665.7,306.1 q2.8,5 6.2,-0.3" fill="none" stroke="#3e3e3e" stroke-width="2.00" />
<path d="M671.3,245.8 C679.4,254.8 686.6,275.8 686.0,304.3" fill="none" stroke="#858585" stroke-width="3.80" />
<path d="M669.4,245.8 C677.5,254.8 684.8,275.8 684.1,304.3" fill="none" stroke="#3e3e3e" stroke-width="1.60" />
<path d="M673.2,245.8 C681.3,254.8 688.5,275.8 687.9,304.3" fill="none" stroke="#3e3e3e" stroke-width="1.60" />
<path d="M667.0,246.6 q3.6,-6 8,-1.2" fill="none" stroke="#3e3e3e" stroke-width="2.00" />
<path d="M683.1,303.9 q2.8,5 6.2,-0.3" fill="none" stroke="#3e3e3e" stroke-width="2.00" />
<path d="M688.6,243.8 C696.8,252.8 704.1,273.8 703.5,302.2" fill="none" stroke="#858585" stroke-width="3.80" />
<path d="M686.7,243.8 C694.9,252.8 702.2,273.8 701.6,302.2" fill="none" stroke="#3e3e3e" stroke-width="1.60" />
<path d="M690.5,243.8 C698.7,252.8 706.0,273.8 705.4,302.2" fill="none" stroke="#3e3e3e" stroke-width="1.60" />
<path d="M684.3,244.6 q3.6,-6 8,-1.2" fill="none" stroke="#3e3e3e" stroke-width="2.00" />
<path d="M700.6,301.8 q2.8,5 6.2,-0.3" fill="none" stroke="#3e3e3e" stroke-width="2.00" />
<path d="M706.0,241.7 C714.2,250.7 721.5,271.7 720.9,300.0" fill="none" stroke="#858585" stroke-width="3.80" />
<path d="M704.1,241.7 C712.3,250.7 719.6,271.7 719.0,300.0" fill="none" stroke="#3e3e3e" stroke-width="1.60" />
<path d="M707.9,241.7 C716.1,250.7 723.4,271.7 722.8,300.0" fill="none" stroke="#3e3e3e" stroke-width="1.60" />
<path d="M701.7,242.5 q3.6,-6 8,-1.2" fill="none" stroke="#3e3e3e" stroke-width="2.00" />
<path d="M718.0,299.6 q2.8,5 6.2,-0.3" fill="none" stroke="#3e3e3e" stroke-width="2.00" />
<path d="M723.3,239.7 C731.6,248.7 738.9,269.7 738.3,297.9" fill="none" stroke="#858585" stroke-width="3.80" />
<path d="M721.4,239.7 C729.7,248.7 737.0,269.7 736.4,297.9" fill="none" stroke="#3e3e3e" stroke-width="1.60" />
<path d="M725.2,239.7 C733.5,248.7 740.8,269.7 740.2,297.9" fill="none" stroke="#3e3e3e" stroke-width="1.60" />
<path d="M719.0,240.5 q3.6,-6 8,-1.2" fill="none" stroke="#3e3e3e" stroke-width="2.00" />
<path d="M735.4,297.5 q2.8,5 6.2,-0.3" fill="none" stroke="#3e3e3e" stroke-width="2.00" />
<path d="M740.6,237.6 C749.0,246.6 756.4,267.6 755.8,295.7" fill="none" stroke="#858585" stroke-width="3.80" />
<path d="M738.7,237.6 C747.1,246.6 754.5,267.6 753.9,295.7" fill="none" stroke="#3e3e3e" stroke-width="1.60" />
<path d="M742.5,237.6 C750.9,246.6 758.3,267.6 757.7,295.7" fill="none" stroke="#3e3e3e" stroke-width="1.60" />
<path d="M736.3,238.4 q3.6,-6 8,-1.2" fill="none" stroke="#3e3e3e" stroke-width="2.00" />
<path d="M752.9,295.3 q2.8,5 6.2,-0.3" fill="none" stroke="#3e3e3e" stroke-width="2.00" />
<path d="M757.9,235.6 C766.3,244.6 773.8,265.6 773.2,293.5" fill="none" stroke="#858585" stroke-width="3.80" />
<path d="M756.0,235.6 C764.4,244.6 771.9,265.6 771.3,293.5" fill="none" stroke="#3e3e3e" stroke-width="1.60" />
<path d="M759.8,235.6 C768.2,244.6 775.7,265.6 775.1,293.5" fill="none" stroke="#3e3e3e" stroke-width="1.60" />
<path d="M753.6,236.4 q3.6,-6 8,-1.2" fill="none" stroke="#3e3e3e" stroke-width="2.00" />
<path d="M770.3,293.1 q2.8,5 6.2,-0.3" fill="none" stroke="#3e3e3e" stroke-width="2.00" />
<path d="M775.3,233.6 C783.7,242.6 791.2,263.6 790.6,291.4" fill="none" stroke="#858585" stroke-width="3.80" />
<path d="M773.4,233.6 C781.8,242.6 789.3,263.6 788.7,291.4" fill="none" stroke="#3e3e3e" stroke-width="1.60" />
<path d="M777.2,233.6 C785.6,242.6 793.1,263.6 792.5,291.4" fill="none" stroke="#3e3e3e" stroke-width="1.60" />
<path d="M771.0,234.4 q3.6,-6 8,-1.2" fill="none" stroke="#3e3e3e" stroke-width="2.00" />
<path d="M787.7,291.0 q2.8,5 6.2,-0.3" fill="none" stroke="#3e3e3e" stroke-width="2.00" />
<path d="M792.6,231.5 C801.1,240.5 808.7,261.5 808.1,289.2" fill="none" stroke="#858585" stroke-width="3.80" />
<path d="M790.7,231.5 C799.2,240.5 806.8,261.5 806.2,289.2" fill="none" stroke="#3e3e3e" stroke-width="1.60" />
<path d="M794.5,231.5 C803.0,240.5 810.6,261.5 810.0,289.2" fill="none" stroke="#3e3e3e" stroke-width="1.60" />
<path d="M788.3,232.3 q3.6,-6 8,-1.2" fill="none" stroke="#3e3e3e" stroke-width="2.00" />
<path d="M805.2,288.8 q2.8,5 6.2,-0.3" fill="none" stroke="#3e3e3e" stroke-width="2.00" />
<path d="M809.9,229.5 C818.5,238.5 826.1,259.5 825.5,287.1" fill="none" stroke="#858585" stroke-width="3.80" />
<path d="M808.0,229.5 C816.6,238.5 824.2,259.5 823.6,287.1" fill="none" stroke="#3e3e3e" stroke-width="1.60" />
<path d="M811.8,229.5 C820.4,238.5 828.0,259.5 827.4,287.1" fill="none" stroke="#3e3e3e" stroke-width="1.60" />
<path d="M805.6,230.3 q3.6,-6 8,-1.2" fill="none" stroke="#3e3e3e" stroke-width="2.00" />
<path d="M822.6,286.7 q2.8,5 6.2,-0.3" fill="none" stroke="#3e3e3e" stroke-width="2.00" />
<path d="M211,467.5 L309.2,557.6" stroke="#151515" stroke-width="2.6" fill="none" style="stroke-linecap:butt"/>
<path d="M518,437 L649,515" stroke="#151515" stroke-width="2.6" fill="none" style="stroke-linecap:butt"/>
</g>
<g filter="url(#softt)">
<text x="1.5" y="173.1" font-size="33" style="stroke-width:0.65px" textLength="327" lengthAdjust="spacingAndGlyphs">Threaded Spindle Rod</text>
<text x="211.2" y="593.7" font-size="28.4" textLength="166.5" lengthAdjust="spacingAndGlyphs">Rubber Foot</text>
<text x="518" y="549.3" font-size="28.4" textLength="248.5" lengthAdjust="spacingAndGlyphs">Adjustment Wheel</text>
</g>
</svg>
</body></html>
